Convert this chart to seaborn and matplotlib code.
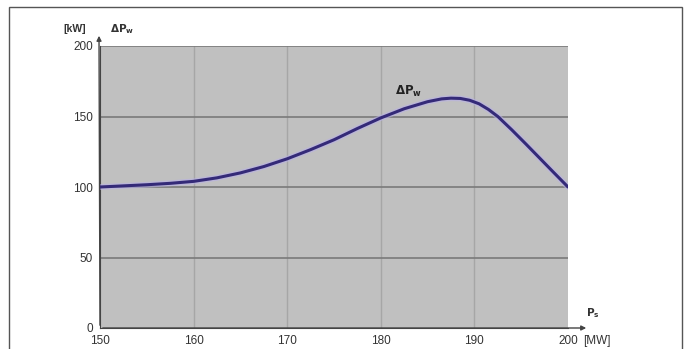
import matplotlib
matplotlib.use("Agg")
import matplotlib.pyplot as plt
import seaborn as sns
import pandas as pd
from matplotlib.patches import Rectangle

sns.set_style("white")
plt.rcParams['font.family'] = ['Liberation Sans', 'DejaVu Sans']

ps_mw = [150, 152.5, 155, 157.5, 160, 162.5, 165, 167.5, 170, 172.5, 175, 177.5, 180,
         182.5, 185, 186.5, 187.5, 188.5, 189.5, 190.5, 191.5, 192.5, 194, 195.5, 197, 198.5, 200]
dpw_kw = [100, 100.8, 101.6, 102.6, 104, 106.5, 110, 114.5, 120, 126.5, 133.5, 141.5, 149,
          155.5, 160.5, 162.5, 163, 162.8, 161.5, 159, 155, 150, 140.5, 130.5, 120.3, 110.1, 100]
x_ticks = [150, 160, 170, 180, 190, 200]
y_ticks = [0, 50, 100, 150, 200]

df = pd.DataFrame({"Ps": ps_mw, "dPw": dpw_kw})

fig = plt.figure(figsize=(6.86, 3.49), dpi=100)
fig.patches.append(Rectangle((9/686, -0.05), (682-9)/686, 1.05 - 7/349, transform=fig.transFigure,
                             fill=False, edgecolor="#555555", linewidth=1.0))
ax = fig.add_axes([100/686, 21/349, 468/686, 282/349])
ax.set_facecolor("#c0c0c0")

for xv in x_ticks[1:-1]:
    ax.axvline(xv, color="#a6a6a6", linewidth=1.0, zorder=1)
for yv in y_ticks[1:]:
    ax.axhline(yv, color="#7a7a7a", linewidth=1.2, zorder=1)

sns.lineplot(data=df, x="Ps", y="dPw", ax=ax, color="#b8b0e8", linewidth=4.2, zorder=3, alpha=0.6)
sns.lineplot(data=df, x="Ps", y="dPw", ax=ax, color="#342a78", linewidth=2.2, zorder=4)

ax.set_xlim(150, 200)
ax.set_ylim(0, 200)
ax.set_xticks(x_ticks)
ax.set_yticks(y_ticks)
ax.set_xticklabels([str(v) for v in x_ticks], fontsize=8.5, color="#333333")
ax.set_yticklabels([str(v) for v in y_ticks], fontsize=8.5, color="#333333")
ax.tick_params(axis="both", length=0, pad=5)
ax.set_xlabel("")
ax.set_ylabel("")
for s in ["top", "right"]:
    ax.spines[s].set_visible(False)
ax.spines["left"].set_color("#444444")
ax.spines["bottom"].set_color("#444444")

# axis arrows
ax.annotate("", xy=(99/686, 1 - 33/349), xytext=(100/686, 1 - 328/349), xycoords="figure fraction",
            arrowprops=dict(arrowstyle="-|>", color="#444444", lw=1.0, mutation_scale=7))
ax.annotate("", xy=(589/686, 1 - 328/349), xytext=(100/686, 1 - 328/349), xycoords="figure fraction",
            arrowprops=dict(arrowstyle="-|>", color="#444444", lw=1.0, mutation_scale=7))

fig.text(63/686, 1 - 29/349, "[kW]", fontsize=7.5, fontweight="bold", color="#333333", va="center")
fig.text(110/686, 1 - 29/349, r"$\mathbf{\Delta P_w}$", fontsize=7.5, color="#333333", va="center")
fig.text(586/686, 1 - 313/349, r"$\mathbf{P_s}$", fontsize=7.5, color="#333333", va="center")
fig.text(583/686, 1 - 341/349, "[MW]", fontsize=8.5, color="#333333", va="center")
ax.text(181.5, 168, r"$\mathbf{\Delta P_w}$", fontsize=8.5, color="#222222", va="center")

fig.savefig("out.png", dpi=100)
